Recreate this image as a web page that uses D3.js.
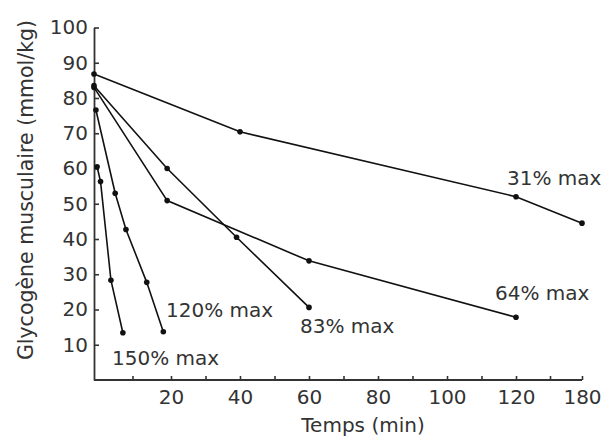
<!DOCTYPE html>
<html><head><meta charset="utf-8">
<script src="https://cdn.jsdelivr.net/npm/d3@7"></script>
<style>body{margin:0;background:#fff}svg{display:block}</style>
</head><body><svg id="c" width="613" height="441"></svg>
<script>
// ---- data ----
const seriesNames = ["31% max", "64% max", "83% max", "120% max", "150% max"];
const t31 = [0, 40, 120, 180];          const v31 = [86.8, 70.4, 52.0, 44.5];
const t64 = [0, 19, 60, 120];           const v64 = [83.0, 50.9, 33.8, 17.8];
const t83 = [0, 19, 39, 60];            const v83 = [83.5, 60.0, 40.5, 20.6];
const t120 = [0.5, 5.5, 8.3, 13.7, 18]; const v120 = [76.6, 53.0, 42.7, 27.7, 13.7];
const t150 = [0.8, 1.7, 4.4, 7.5];      const v150 = [60.5, 56.3, 28.3, 13.4];
const xTicks = [10, 20, 30, 40, 50, 60, 70, 80, 90, 100, 110, 120, 130, 180];
const xTickLabels = [20, 40, 60, 80, 100, 120, 180];
const yTicks = [10, 20, 30, 40, 50, 60, 70, 80, 90, 100];
const xTitle = "Temps (min)";
const yTitle = "Glycogène musculaire (mmol/kg)";

const times = [t31, t64, t83, t120, t150];
const values = [v31, v64, v83, v120, v150];

// ---- layout ----
const FONT = "'DejaVu Sans', Verdana, sans-serif";
const TXT = "#333";
const labelPos = [[507, 185], [495, 300], [300, 333], [166, 317], [112, 365]];

const svg = d3.select("#c");
// broken x-axis (0..130 linear, then 180 squeezed at the end)
const x = d3.scaleLinear().domain([0, 20, 120, 130, 180]).range([94, 171, 516, 550, 582]);
const y = d3.scaleLinear().domain([0, 100]).range([380, 27.5]);

const xAxis = svg.append("g").attr("transform", `translate(0,${y(0)})`)
  .call(d3.axisBottom(x).tickValues(xTicks).tickSize(-4).tickSizeOuter(0).tickPadding(10)
    .tickFormat(d => xTickLabels.includes(d) ? d : ""));
const yAxis = svg.append("g").attr("transform", `translate(${x(0)},0)`)
  .call(d3.axisLeft(y).tickValues(yTicks).tickSize(-5).tickSizeOuter(0).tickPadding(6));

[xAxis, yAxis].forEach(g => {
  g.select(".domain").attr("stroke", "#333").attr("stroke-width", 1.8);
  g.selectAll(".tick line").attr("stroke", "#333").attr("stroke-width", 1.6);
  g.selectAll("text").attr("font-family", FONT).attr("font-size", 20).attr("fill", TXT);
});
// extend the x domain line to the y axis corner
xAxis.select(".domain").attr("d", `M${x(0)},0H${x(180)}`);

const line = d3.line().x(d => x(d[0])).y(d => y(d[1]));
seriesNames.forEach((name, i) => {
  const pts = times[i].map((t, j) => [t, values[i][j]]);
  svg.append("path").datum(pts).attr("d", line)
    .attr("fill", "none").attr("stroke", "#111").attr("stroke-width", 1.6);
  svg.append("g").selectAll("circle").data(pts).join("circle")
    .attr("cx", d => x(d[0])).attr("cy", d => y(d[1])).attr("r", 2.8).attr("fill", "#111");
  svg.append("text").attr("x", labelPos[i][0]).attr("y", labelPos[i][1])
    .attr("font-family", FONT).attr("font-size", 20).attr("fill", TXT).text(name);
});

svg.append("text").attr("x", 363).attr("y", 432).attr("text-anchor", "middle")
  .attr("font-family", FONT).attr("font-size", 20).attr("fill", TXT).text(xTitle);
svg.append("text").attr("transform", "translate(33,190) rotate(-90)").attr("text-anchor", "middle")
  .attr("font-family", FONT).attr("font-size", 20.5).attr("fill", TXT).text(yTitle);
</script></body></html>
